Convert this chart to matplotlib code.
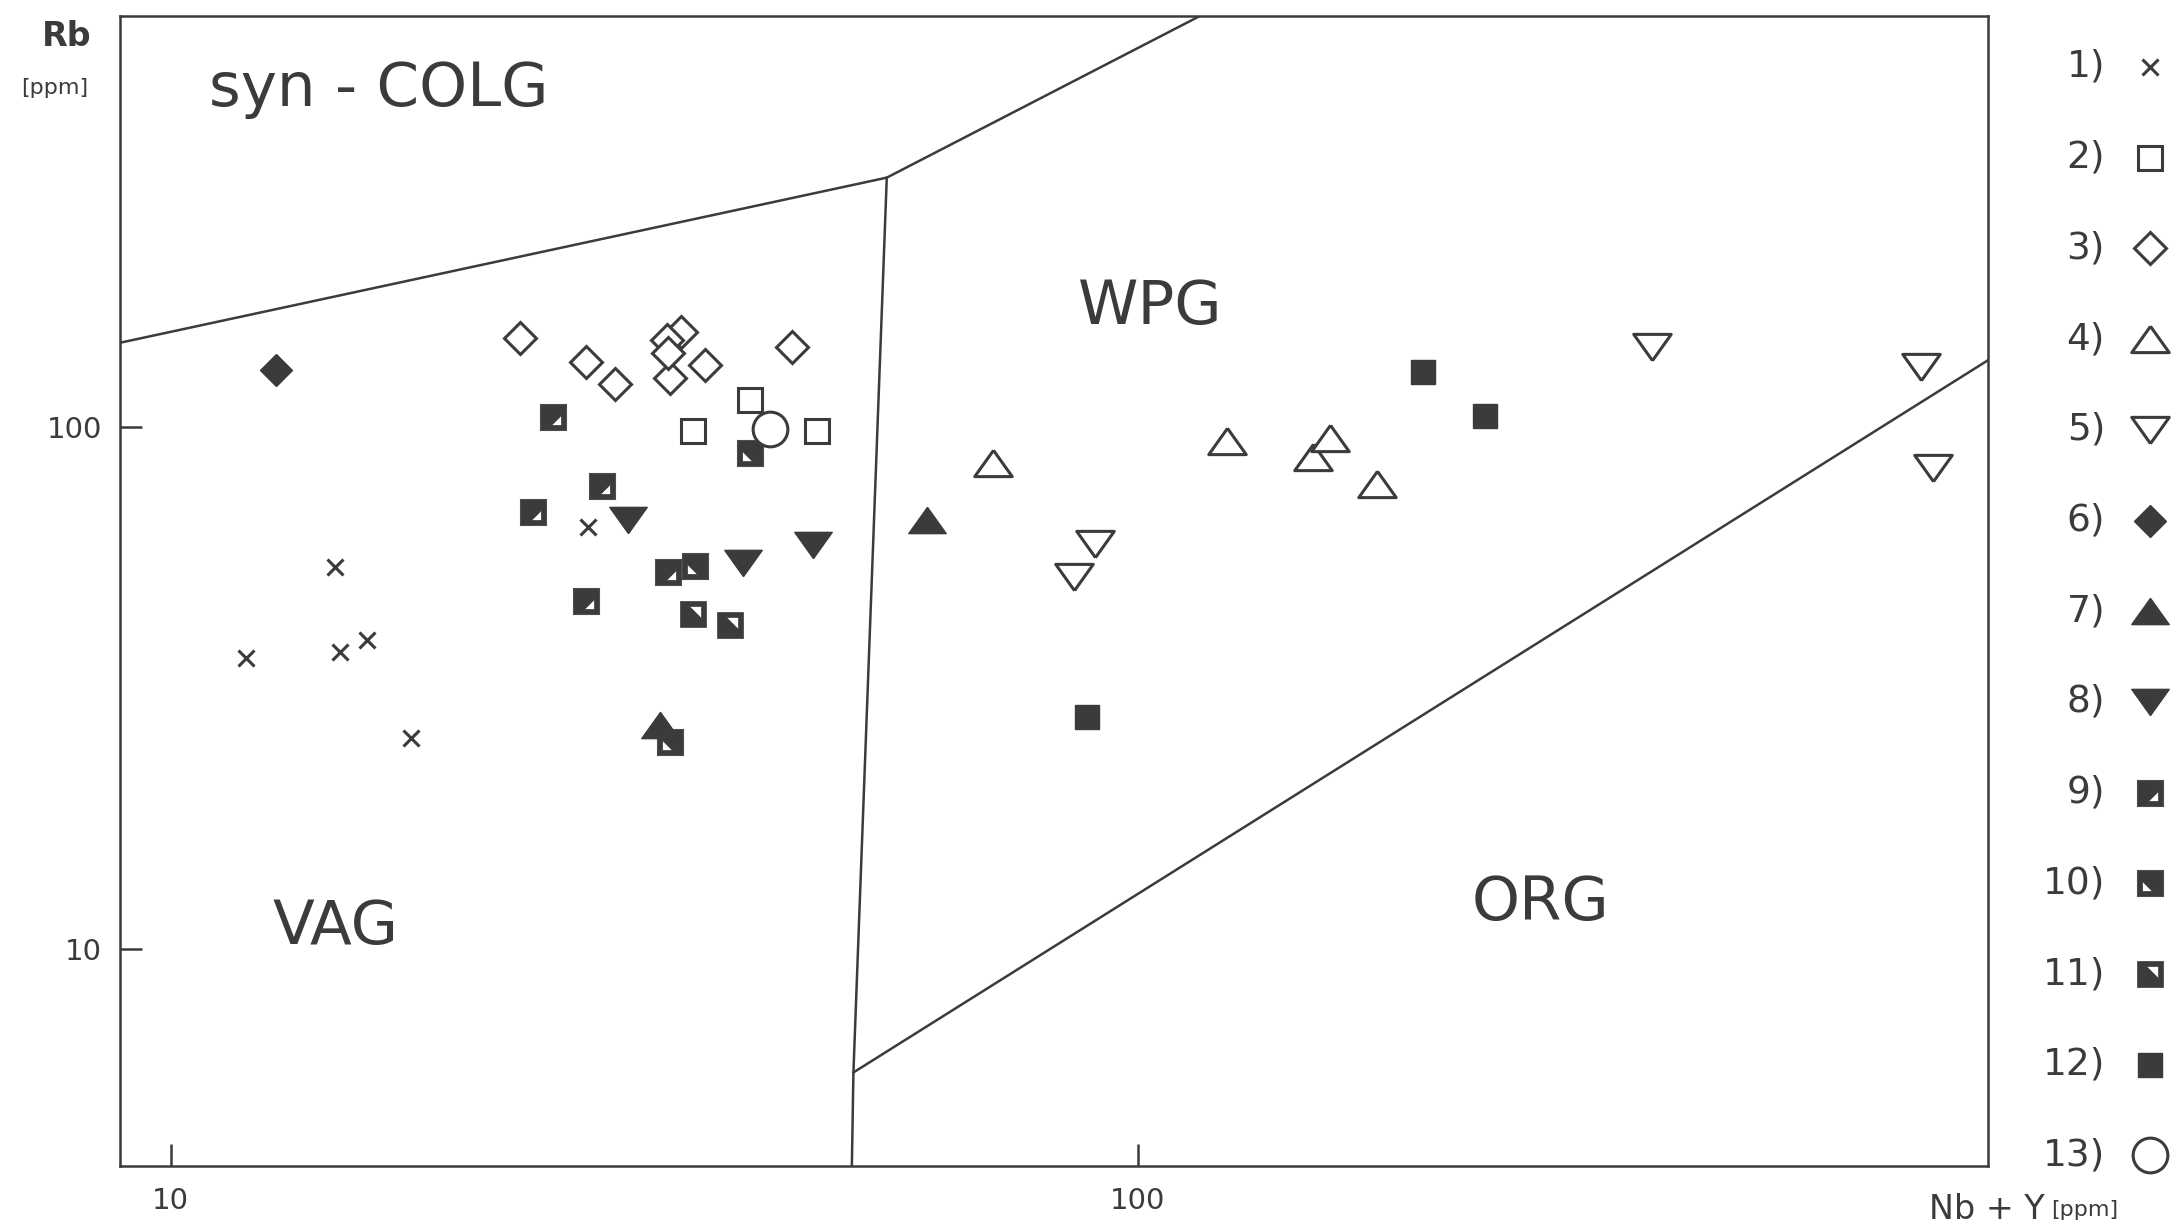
import matplotlib
matplotlib.use('Agg')
from matplotlib import pyplot as plt
from matplotlib.path import Path


# Rb vs Nb+Y discrimination diagram

# 1) crosses
s1_x = [11.95, 14.8, 14.96, 15.97, 17.7, 27.0]
s1_y = [36.1, 53.8, 37.0, 39.1, 25.3, 64.2]
# 2) open squares
s2_x = [34.7, 39.7, 46.6]
s2_y = [98.3, 112.6, 98.3]
# 3) open diamonds
s3_x = [22.96, 26.9, 28.8, 32.8, 35.7, 43.9, 33.7, 32.6, 32.7]
s3_y = [147.9, 132.8, 120.7, 124.0, 131.1, 141.9, 152.2, 146.8, 138.4]
# 4) open up triangles
s4_x = [70.9, 123.6, 151.7, 157.9, 176.6]
s4_y = [85.1, 93.8, 87.7, 95.0, 77.6]
# 5) open down triangles
s5_x = [90.3, 85.9, 339.8, 645.2, 664.6]
s5_y = [59.7, 51.5, 142.3, 129.9, 83.5]
# 6) filled diamond
s6_x = [12.85]
s6_y = [128.2]
# 7) filled up triangles
s7_x = [32.05, 60.5]
s7_y = [26.9, 66.2]
# 8) filled down triangles
s8_x = [29.7, 39.1, 46.1]
s8_y = [66.3, 54.8, 59.4]
# 9) half-filled squares
s9_x = [24.85, 27.9, 23.7, 26.9, 32.7]
s9_y = [104.4, 77.1, 68.6, 46.4, 52.6]
# 10)
s10_x = [34.8, 39.7, 32.8]
s10_y = [54.2, 89.0, 24.9]
# 11)
s11_x = [34.7, 37.9]
s11_y = [43.8, 41.8]
# 12) filled squares
s12_x = [197.0, 228.6, 88.5]
s12_y = [127.5, 104.8, 27.8]
# 13) open circle
s13_x = [41.6]
s13_y = [99.0]

# field boundaries
colg_x = [2, 55, 400]
colg_y = [80, 300, 2000]
vag_wpg_x = [55, 50.8, 50.0]
vag_wpg_y = [300, 5.8, 1.0]
org_x = [50.8, 2000]
org_y = [5.8, 415]

legend_labels = ['1)', '2)', '3)', '4)', '5)', '6)', '7)', '8)', '9)', '10)', '11)', '12)', '13)']

ink = '#3b3b3b'


def cut_square(tri):
    # filled square with a small white triangle cut out
    verts = [(-1, -1), (1, -1), (1, 1), (-1, 1), (-1, -1)] + tri + [tri[0]]
    codes = [Path.MOVETO] + [Path.LINETO] * 3 + [Path.CLOSEPOLY] + \
            [Path.MOVETO, Path.LINETO, Path.LINETO, Path.CLOSEPOLY]
    return Path(verts, codes)


m9 = cut_square([(0.6, -0.6), (-0.15, -0.6), (0.6, 0.15)])
m10 = cut_square([(-0.6, -0.6), (-0.6, 0.15), (0.15, -0.6)])
m11 = cut_square([(-0.3, 0.6), (0.6, 0.6), (0.6, -0.3)])
tri_up = Path([(0, 0.7), (-1, -0.7), (1, -0.7), (0, 0.7)])
tri_dn = Path([(0, -0.7), (-1, 0.7), (1, 0.7), (0, -0.7)])

styles = [
    dict(marker='x', ms=11, mew=2.2, mec=ink),
    dict(marker='s', ms=17, mew=2.2, mec=ink, mfc='white'),
    dict(marker='D', ms=16, mew=2.2, mec=ink, mfc='white'),
    dict(marker=tri_up, ms=27, mew=2.2, mec=ink, mfc='white'),
    dict(marker=tri_dn, ms=27, mew=2.2, mec=ink, mfc='white'),
    dict(marker='D', ms=16, mew=1, mec=ink, mfc=ink),
    dict(marker=tri_up, ms=27, mew=1, mec=ink, mfc=ink),
    dict(marker=tri_dn, ms=27, mew=1, mec=ink, mfc=ink),
    dict(marker=m9, ms=19, mew=0.5, mec=ink, mfc=ink),
    dict(marker=m10, ms=19, mew=0.5, mec=ink, mfc=ink),
    dict(marker=m11, ms=19, mew=0.5, mec=ink, mfc=ink),
    dict(marker='s', ms=17, mew=1, mec=ink, mfc=ink),
    dict(marker='o', ms=25, mew=2.2, mec=ink, mfc='white'),
]

series = [(s1_x, s1_y), (s2_x, s2_y), (s3_x, s3_y), (s4_x, s4_y), (s5_x, s5_y),
          (s6_x, s6_y), (s7_x, s7_y), (s8_x, s8_y), (s9_x, s9_y), (s10_x, s10_y),
          (s11_x, s11_y), (s12_x, s12_y), (s13_x, s13_y)]

fig = plt.figure(figsize=(21.77, 12.28), dpi=100)
ax = fig.add_axes([0.0551, 0.0505, 0.8581, 0.9365])
ax.set_xscale('log')
ax.set_yscale('log')
ax.set_xlim(8.86, 757)
ax.set_ylim(3.84, 612)

for xs, ys in [(colg_x, colg_y), (vag_wpg_x, vag_wpg_y), (org_x, org_y)]:
    ax.plot(xs, ys, color=ink, lw=1.8)

for (xs, ys), st in zip(series, styles):
    ax.plot(xs, ys, ls='none', **st)

# field names
ax.text(16.4, 442, 'syn - COLG', fontsize=44, color=ink, ha='center', va='center')
ax.text(103, 169, 'WPG', fontsize=44, color=ink, ha='center', va='center')
ax.text(14.8, 11.0, 'VAG', fontsize=44, color=ink, ha='center', va='center')
ax.text(261, 12.2, 'ORG', fontsize=44, color=ink, ha='center', va='center')

ax.set_xticks([10, 100])
ax.set_yticks([10, 100])
ax.set_xticklabels(['10', '100'])
ax.set_yticklabels(['10', '100'])
ax.minorticks_off()
ax.tick_params(direction='in', length=16, width=1.8, color=ink, labelcolor=ink,
               labelsize=21)
ax.tick_params(axis='x', pad=15)
ax.tick_params(axis='y', pad=13)
for sp in ax.spines.values():
    sp.set_linewidth(1.8)
    sp.set_color(ink)

# axis titles
fig.text(0.0308, 0.970, 'Rb', fontsize=24, color=ink, ha='center', va='center',
         fontweight='bold')
fig.text(0.0253, 0.928, '[ppm]', fontsize=16, color=ink, ha='center', va='center')
fig.text(0.886, 0.0147, 'Nb + Y', fontsize=24, color=ink, ha='left', va='center')
fig.text(0.9424, 0.0147, '[ppm]', fontsize=16, color=ink, ha='left', va='center')

# legend column on the right
lax = fig.add_axes([0, 0, 1, 1])
lax.set_xlim(0, 2177)
lax.set_ylim(1228, 0)
lax.axis('off')
for i, (lab, st) in enumerate(zip(legend_labels, styles)):
    yy = 67 + i * 90.7
    lax.text(2105, yy, lab, fontsize=27, color=ink, ha='right', va='center')
    lax.plot([2150], [yy], ls='none', **st)

plt.savefig('out.png')
